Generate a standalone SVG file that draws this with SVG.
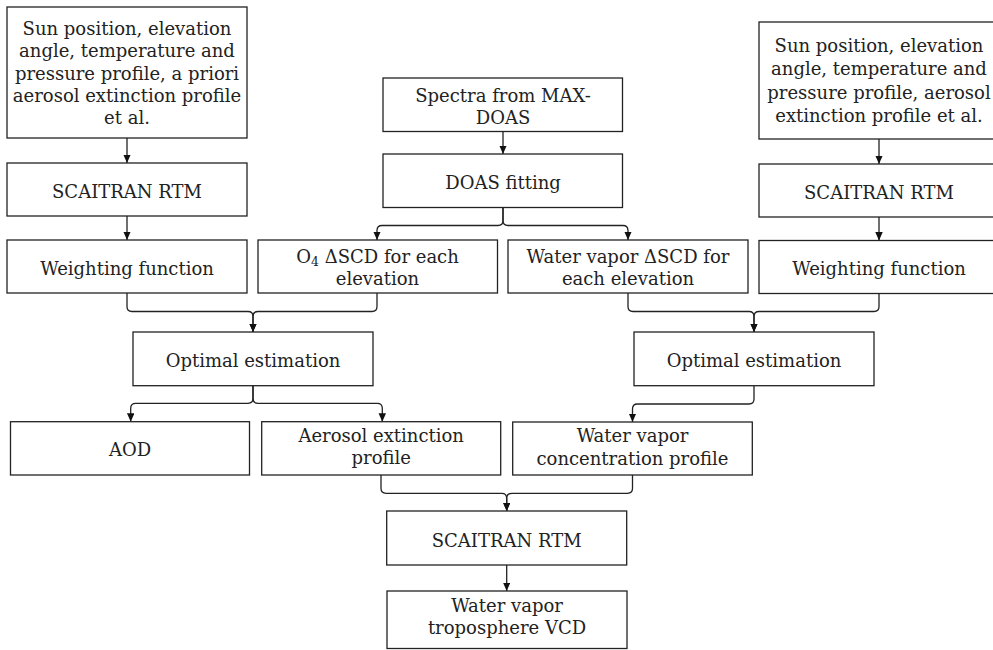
<svg xmlns="http://www.w3.org/2000/svg" width="993" height="650" viewBox="0 0 993 650">
<style>
.box{fill:#fff;stroke:#222;stroke-width:1.3}
.t{font-family:'DejaVu Serif',serif;font-size:18px;fill:#222;text-anchor:middle}
.c{fill:none;stroke:#222;stroke-width:1.3}
</style>
<defs>
<marker id="ah" markerUnits="userSpaceOnUse" markerWidth="9" markerHeight="8" refX="8.5" refY="3.75" orient="auto">
<path d="M0,0 L8.5,3.75 L0,7.5 z" fill="#111"/>
</marker>
</defs>
<rect width="993" height="650" fill="#fff"/>
<g id="connectors">
<path class="c" marker-end="url(#ah)" d="M127,138 V163"/>
<path class="c" marker-end="url(#ah)" d="M127,216 V240"/>
<path class="c" marker-end="url(#ah)" d="M503,131.5 V154"/>
<path class="c" marker-end="url(#ah)" d="M503,207.5 V220.5 Q503,225.5 498,225.5 H382 Q377,225.5 377,230.5 V240"/>
<path class="c" marker-end="url(#ah)" d="M503,207.5 V220.5 Q503,225.5 508,225.5 H623 Q628,225.5 628,230.5 V240"/>
<path class="c" marker-end="url(#ah)" d="M879,139 V164"/>
<path class="c" marker-end="url(#ah)" d="M879,217 V240.5"/>
<path class="c" marker-end="url(#ah)" d="M127,293 V306.5 Q127,311.5 132,311.5 H248 Q253,311.5 253,316.5 V332"/>
<path class="c" marker-end="url(#ah)" d="M377,293 V306.5 Q377,311.5 372,311.5 H258 Q253,311.5 253,316.5 V332"/>
<path class="c" marker-end="url(#ah)" d="M628,293 V306.5 Q628,311.5 633,311.5 H749 Q754,311.5 754,316.5 V332"/>
<path class="c" marker-end="url(#ah)" d="M879,293.5 V306.5 Q879,311.5 874,311.5 H759 Q754,311.5 754,316.5 V332"/>
<path class="c" marker-end="url(#ah)" d="M253,385.7 V398.3 Q253,403.3 248,403.3 H135.7 Q130.7,403.3 130.7,408.3 V421.7"/>
<path class="c" marker-end="url(#ah)" d="M253,385.7 V398.3 Q253,403.3 258,403.3 H377.3 Q382.3,403.3 382.3,408.3 V421.7"/>
<path class="c" marker-end="url(#ah)" d="M754,385.7 V399 Q754,404 749,404 H637.5 Q632.5,404 632.5,409 V422"/>
<path class="c" marker-end="url(#ah)" d="M381,475 V488.3 Q381,493.3 386,493.3 H501.7 Q506.7,493.3 506.7,498.3 V511"/>
<path class="c" marker-end="url(#ah)" d="M632.5,475 V488.3 Q632.5,493.3 627.5,493.3 H511.7 Q506.7,493.3 506.7,498.3 V511"/>
<path class="c" marker-end="url(#ah)" d="M506.7,565 V591"/>
</g>
<g id="inputs-left">
<rect class="box" x="7" y="7" width="240" height="131"/>
<text class="t"><tspan x="127" y="34.8">Sun position, elevation</tspan><tspan x="127" y="57.2">angle, temperature and</tspan><tspan x="127" y="79.6">pressure profile, a priori</tspan><tspan x="127" y="102">aerosol extinction profile</tspan><tspan x="127" y="124.4">et al.</tspan></text>
</g>
<g id="rtm-left">
<rect class="box" x="7" y="163" width="240" height="53"/>
<text class="t" x="127" y="197.5">SCAITRAN RTM</text>
</g>
<g id="wf-left">
<rect class="box" x="7" y="240" width="240" height="53"/>
<text class="t" x="127" y="274.5">Weighting function</text>
</g>
<g id="spectra">
<rect class="box" x="383" y="78" width="239.5" height="53.5"/>
<text class="t"><tspan x="503" y="101.5">Spectra from MAX-</tspan><tspan x="503" y="123.5">DOAS</tspan></text>
</g>
<g id="doas">
<rect class="box" x="383" y="154" width="239.5" height="53.5"/>
<text class="t" x="503" y="188.5">DOAS fitting</text>
</g>
<g id="o4">
<rect class="box" x="258" y="240" width="239.5" height="53"/>
<text class="t"><tspan x="377.5" y="262.5">O<tspan font-size="12.5px" dy="3.5">4</tspan><tspan dy="-3.5"> ΔSCD for each</tspan></tspan><tspan x="377.5" y="284.5">elevation</tspan></text>
</g>
<g id="wv-scd">
<rect class="box" x="508" y="240" width="240" height="53"/>
<text class="t"><tspan x="628" y="262.5">Water vapor ΔSCD for</tspan><tspan x="628" y="284.5">each elevation</tspan></text>
</g>
<g id="inputs-right">
<rect class="box" x="759" y="22" width="240" height="117"/>
<text class="t"><tspan x="879" y="51.5">Sun position, elevation</tspan><tspan x="879" y="75">angle, temperature and</tspan><tspan x="879" y="98.5">pressure profile, aerosol</tspan><tspan x="879" y="122">extinction profile et al.</tspan></text>
</g>
<g id="rtm-right">
<rect class="box" x="759" y="164" width="240" height="53"/>
<text class="t" x="879" y="198.5">SCAITRAN RTM</text>
</g>
<g id="wf-right">
<rect class="box" x="759" y="240.5" width="240" height="53"/>
<text class="t" x="879" y="275">Weighting function</text>
</g>
<g id="oe-left">
<rect class="box" x="133" y="332" width="240" height="53.7"/>
<text class="t" x="253" y="366.8">Optimal estimation</text>
</g>
<g id="oe-right">
<rect class="box" x="634" y="332" width="240" height="53.7"/>
<text class="t" x="754" y="366.8">Optimal estimation</text>
</g>
<g id="aod">
<rect class="box" x="10.5" y="421.7" width="239" height="53.3"/>
<text class="t" x="130" y="455.5">AOD</text>
</g>
<g id="aerosol-profile">
<rect class="box" x="261.7" y="421.7" width="239" height="53.3"/>
<text class="t"><tspan x="381.2" y="441.8">Aerosol extinction</tspan><tspan x="381.2" y="463.5">profile</tspan></text>
</g>
<g id="wv-profile">
<rect class="box" x="512.7" y="422" width="239.6" height="53"/>
<text class="t"><tspan x="632.5" y="442">Water vapor</tspan><tspan x="632.5" y="464.5">concentration profile</tspan></text>
</g>
<g id="rtm-bottom">
<rect class="box" x="386.7" y="511" width="240" height="54"/>
<text class="t" x="506.7" y="546.5">SCAITRAN RTM</text>
</g>
<g id="vcd">
<rect class="box" x="387" y="591" width="240" height="57.5"/>
<text class="t"><tspan x="507" y="611.7">Water vapor</tspan><tspan x="507" y="633.8">troposphere VCD</tspan></text>
</g>
</svg>
